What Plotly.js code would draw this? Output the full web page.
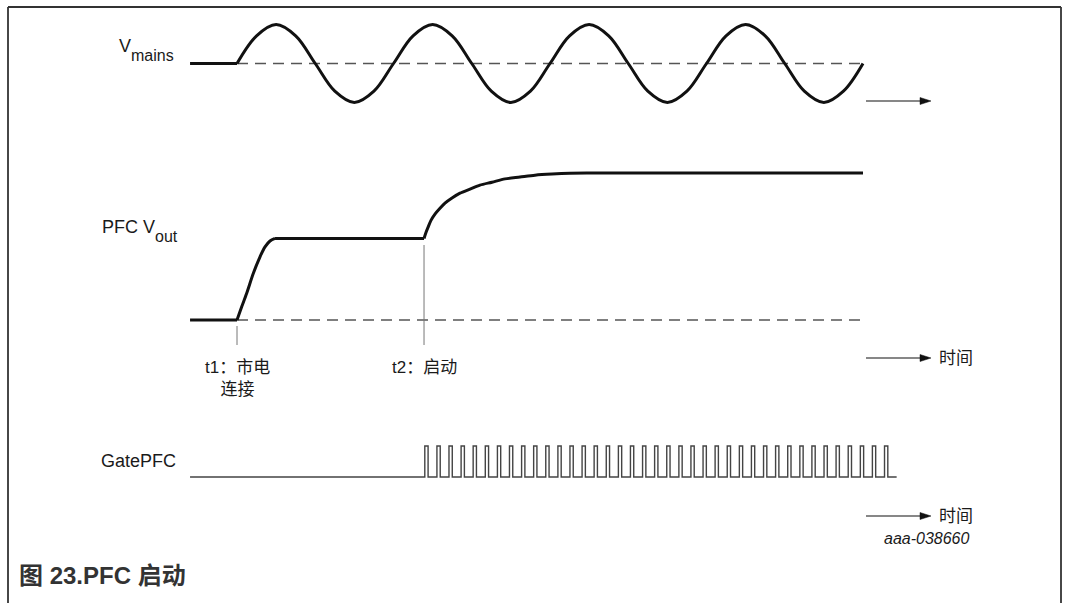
<!DOCTYPE html>
<html><head><meta charset="utf-8">
<script src="https://cdn.plot.ly/plotly-3.0.1.min.js"></script>
<style>html,body{margin:0;padding:0;background:#fff;}#chart{width:1065px;height:603px;}</style>
</head><body><div id="chart"></div>
<script>
// ---------- DATA (time in ms; t1 = mains connected, t2 = PFC start) ----------
const eventTimes = [0, 23.9];               // t1, t2
const eventLabels = ["t1：市电<br>连接", "t2：启动"];
const traceStart = -6.0;                   // left end of all traces
const traceEnd = 80;                       // right end of Vmains / Vout
const gateEnd = 84.3;                      // right end of GatePFC

// Vmains (normalized), read at 2.5 ms steps
const mainsT = [0,2.5,5,7.5,10,12.5,15,17.5,20,22.5,25,27.5,30,32.5,35,37.5,40,42.5,45,47.5,50,52.5,55,57.5,60,62.5,65,67.5,70,72.5,75,77.5,80];
const mainsV = [0,0.71,1,0.71,0,-0.71,-1,-0.71,0,0.71,1,0.71,0,-0.71,-1,-0.71,0,0.71,1,0.71,0,-0.71,-1,-0.71,0,0.71,1,0.71,0,-0.71,-1,-0.71,0];

// PFC Vout (V): rise after t1, plateau, boost after t2
const riseT = [0,0.60,1.24,2.09,2.94,3.58,4.22,4.86];
const riseV = [0,36,73,127,172,199,215,222];
const plateauV = 222;
const boostT = [23.90,24.15,24.41,24.79,25.30,25.94,26.58,27.48,28.50,29.78,31.05,32.59,34.25,36.17,38.08,40.26,42.56,46.39,52,80];
const boostV = [222,238,252,271,288,304,318,332,345,356,367,375,384,389,394,397,399,400,400,400];

// GatePFC pulse rising edges (ms) and pulse width
const pulseRise = [24.00,25.55,27.09,28.64,30.18,31.73,33.28,34.82,36.37,37.91,39.46,41.01,42.55,44.10,45.64,47.19,48.74,50.28,51.83,53.37,54.92,56.47,58.01,59.56,61.10,62.65,64.20,65.74,67.29,68.83,70.38,71.93,73.47,75.02,76.56,78.11,79.66,81.20,82.75];
const pulseWidth = 0.42;

// ---------- LAYOUT GEOMETRY (pixels) ----------
const W = 1065, H = 603;
const xZeroPx = 237, pxPerMs = 7.825;
const mainsZeroPx = 63.5, mainsUnitPx = 39;
const voutZeroPx = 320, voutPxPerV = 0.3675;
const gateZeroPx = 477, gateUnitPx = 31;

const px = v => v / W;
const py = v => 1 - v / H;
const yRange = (zeroPx, unitPx) => [-(H - zeroPx) / unitPx, zeroPx / unitPx];

// ---------- TRACES ----------
const black = '#111';
const thick = {color:black, width:3};
const dashed = {color:'#555', width:1.5, dash:'11px,7px'};
const traces = [];
const L = (x, y, yaxis, line) => traces.push({x, y, yaxis, mode:'lines', line, hoverinfo:'skip'});
// Vmains
L([traceStart, eventTimes[0]], [0,0], 'y', thick);
L([eventTimes[0], traceEnd], [0,0], 'y', dashed);
L(mainsT, mainsV, 'y', Object.assign({shape:'spline', smoothing:1}, thick));
// Vout
L([eventTimes[0], traceEnd], [0,0], 'y2', dashed);
L([traceStart, eventTimes[0]], [0,0], 'y2', thick);
L(riseT, riseV, 'y2', Object.assign({shape:'spline', smoothing:0.8}, thick));
L([riseT[riseT.length-1], eventTimes[1]], [plateauV, plateauV], 'y2', thick);
L(boostT, boostV, 'y2', Object.assign({shape:'spline', smoothing:0.8}, thick));
// Gate
const gx = [traceStart], gy = [0];
pulseRise.forEach(s => { gx.push(s, s, s + pulseWidth, s + pulseWidth); gy.push(0, 1, 1, 0); });
gx.push(gateEnd); gy.push(0);
L(gx, gy, 'y3', {color:'#444', width:1.4});

// ---------- SHAPES ----------
const shapes = [];
const frame = '#333';
shapes.push({type:'line', xref:'paper', yref:'paper', x0:px(8), x1:px(1061), y0:py(7), y1:py(7), line:{color:frame, width:1.8}});
shapes.push({type:'line', xref:'paper', yref:'paper', x0:px(8), x1:px(8), y0:py(7), y1:py(H+5), line:{color:frame, width:1.8}});
shapes.push({type:'line', xref:'paper', yref:'paper', x0:px(1061), x1:px(1061), y0:py(7), y1:py(H+5), line:{color:frame, width:1.8}});
// event markers
shapes.push({type:'line', xref:'x', yref:'paper', x0:eventTimes[0], x1:eventTimes[0], y0:py(326), y1:py(345), line:{color:'#777', width:1}});
shapes.push({type:'line', xref:'x', yref:'paper', x0:eventTimes[1], x1:eventTimes[1], y0:py(245), y1:py(345), line:{color:'#777', width:1}});
// time arrows
[101, 358, 516].forEach(ay => {
  shapes.push({type:'line', xref:'paper', yref:'paper', x0:px(866), x1:px(922), y0:py(ay), y1:py(ay), line:{color:black, width:1.2}});
  shapes.push({type:'path', xref:'paper', yref:'paper',
    path:`M${px(920)},${py(ay-3.5)} L${px(931)},${py(ay)} L${px(920)},${py(ay+3.5)} Z`,
    fillcolor:black, line:{color:black, width:0.5}});
});

// ---------- ANNOTATIONS ----------
const fam = 'Liberation Sans, Arial, Noto Sans CJK SC, sans-serif';
const ink = '#1a1a1a';
const base = {xref:'paper', yref:'paper', showarrow:false, borderpad:0, borderwidth:0, yanchor:'middle'};
const ann = (text, x, y, o={}) => Object.assign({}, base, {text, x:px(x), y:py(y),
  xanchor:'right', font:{family:fam, size:18, color:ink}}, o);
const annotations = [
  ann('V', 131, 46),
  ann('mains', 131, 55, {xanchor:'left', font:{family:fam, size:16, color:ink}}),
  ann('PFC V', 155, 227),
  ann('out', 155, 236, {xanchor:'left', font:{family:fam, size:16, color:ink}}),
  ann('GatePFC', 176, 461),
  Object.assign({}, base, {text:eventLabels[0], x:eventTimes[0], xref:'x', y:py(378), xanchor:'center', align:'center', font:{family:fam, size:17, color:ink}}),
  Object.assign({}, base, {text:eventLabels[1], x:eventTimes[1], xref:'x', y:py(367), xanchor:'center', align:'center', font:{family:fam, size:17, color:ink}}),
  ann('时间', 939, 358, {xanchor:'left', font:{family:fam, size:17, color:ink}}),
  ann('时间', 939, 516, {xanchor:'left', font:{family:fam, size:17, color:ink}}),
  ann('aaa-038660', 970, 538, {font:{family:fam, size:16, color:ink, style:'italic'}}),
  ann('<b>图 23.PFC 启动</b>', 19, 575, {xanchor:'left', font:{family:fam, size:24, color:'#333', weight:700}})
];

const layout = {
  width: W, height: H, margin:{l:0, r:0, t:0, b:0},
  paper_bgcolor:'#fff', plot_bgcolor:'#fff', showlegend:false,
  xaxis:{range:[-xZeroPx/pxPerMs, (W - xZeroPx)/pxPerMs], visible:false, fixedrange:true},
  yaxis:{range:yRange(mainsZeroPx, mainsUnitPx), visible:false, fixedrange:true},
  yaxis2:{range:yRange(voutZeroPx, voutPxPerV), visible:false, overlaying:'y', fixedrange:true},
  yaxis3:{range:yRange(gateZeroPx, gateUnitPx), visible:false, overlaying:'y', fixedrange:true},
  shapes, annotations
};
Plotly.newPlot('chart', traces, layout, {displayModeBar:false, staticPlot:true});
</script></body></html>
